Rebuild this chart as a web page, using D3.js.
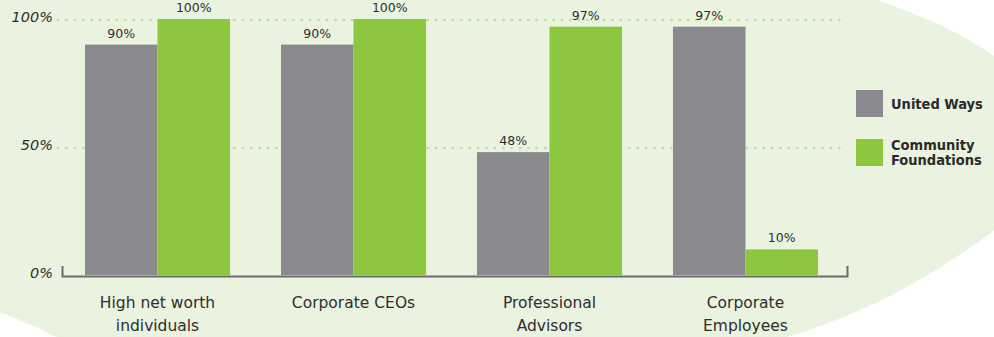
<!DOCTYPE html>
<html>
<head>
<meta charset="utf-8">
<script src="https://cdn.jsdelivr.net/npm/d3@7"></script>
<style>
  html, body { margin: 0; padding: 0; background: #ffffff; }
  svg { display: block; }
</style>
</head>
<body>
<svg id="chart" width="994" height="337"></svg>
<script>
  // ── Data ──────────────────────────────────────────────────────────────────
  var categories = [
    ["High net worth", "individuals"],
    ["Corporate CEOs"],
    ["Professional", "Advisors"],
    ["Corporate", "Employees"]
  ];
  var seriesNames = ["United Ways", ["Community", "Foundations"]];
  var unitedWays = [90, 90, 48, 97];
  var communityFoundations = [100, 100, 97, 10];
  var yTicks = [0, 50, 100];

  var C = {
    bg: "#eaf3df",
    gray: "#8a8a8e",
    green: "#8dc63f",
    grid: "#c2dc98",
    text: "#333333",
    axis: "#6b6b6b"
  };

  var svg = d3.select("#chart");

  // ── Background blob ───────────────────────────────────────────────────────
  svg.append("path")
    .attr("fill", C.bg)
    .attr("d", "M0,0 L877,0 C930,18 970,38 1000,60 L1000,226 C935,275 870,312 787,337 L57,337 C38,328 18,319 0,312 Z");

  // ── Scales ───────────────────────────────────────────────────────────────
  var x0 = d3.scaleBand().domain(d3.range(categories.length)).range([85, 818]).paddingInner(0.26).paddingOuter(0);
  var x1 = d3.scaleBand().domain([0, 1]).range([0, x0.bandwidth()]);
  var y = d3.scaleLinear().domain([0, 100]).range([275, 19]);

  // ── Gridlines ─────────────────────────────────────────────────────────────
  svg.append("g").selectAll("line")
    .data(yTicks.filter(function (d) { return d > 0; }))
    .join("line")
    .attr("x1", 58).attr("x2", 846)
    .attr("y1", function (d) { return y(d) + 1; })
    .attr("y2", function (d) { return y(d) + 1; })
    .attr("stroke", C.grid)
    .attr("stroke-width", 2.6)
    .attr("stroke-linecap", "round")
    .attr("stroke-dasharray", "0.1,8.3");

  // ── Y axis labels ─────────────────────────────────────────────────────────
  var yAxis = svg.append("g")
    .attr("transform", "translate(53,0)")
    .call(d3.axisLeft(y).tickValues(yTicks).tickSize(0).tickPadding(0)
      .tickFormat(function (d) { return d + "%"; }));
  yAxis.select(".domain").remove();
  yAxis.selectAll("text")
    .attr("font-family", "'DejaVu Sans', sans-serif")
    .attr("font-style", "italic")
    .attr("font-size", "14.5px")
    .attr("fill", "#2e2e2e")
    .attr("dy", "0.15em");

  // ── Bars ──────────────────────────────────────────────────────────────────
  var series = [unitedWays, communityFoundations];
  var colors = [C.gray, C.green];

  var groups = svg.append("g").selectAll("g")
    .data(categories)
    .join("g")
    .attr("transform", function (d, i) { return "translate(" + x0(i) + ",0)"; });

  groups.selectAll("rect")
    .data(function (d, i) { return series.map(function (s, k) { return { k: k, v: s[i] }; }); })
    .join("rect")
    .attr("x", function (d) { return x1(d.k); })
    .attr("width", x1.bandwidth())
    .attr("y", function (d) { return y(d.v); })
    .attr("height", function (d) { return y(0) - y(d.v); })
    .attr("fill", function (d) { return colors[d.k]; });

  groups.selectAll("text.val")
    .data(function (d, i) { return series.map(function (s, k) { return { k: k, v: s[i] }; }); })
    .join("text")
    .attr("class", "val")
    .attr("x", function (d) { return x1(d.k) + x1.bandwidth() / 2; })
    .attr("y", function (d) { return y(d.v) - 7; })
    .attr("text-anchor", "middle")
    .attr("font-family", "'DejaVu Sans', sans-serif")
    .attr("font-size", "12.5px")
    .attr("fill", "#2e2e2e")
    .text(function (d) { return d.v + "%"; });

  // ── X axis (baseline with end ticks) ──────────────────────────────────────
  var xAxisScale = d3.scaleLinear().range([62, 847]);
  var xAxis = svg.append("g")
    .attr("transform", "translate(0,276)")
    .call(d3.axisBottom(xAxisScale).ticks(0).tickSizeOuter(-10));
  xAxis.select(".domain").attr("stroke", C.axis).attr("stroke-width", 2).attr("fill", "none");

  // Category labels
  groups.append("text")
    .attr("x", x0.bandwidth() / 2)
    .attr("y", 308)
    .attr("text-anchor", "middle")
    .attr("font-family", "'DejaVu Sans', sans-serif")
    .attr("font-size", "15.5px")
    .attr("fill", "#2e2e2e")
    .selectAll("tspan")
    .data(function (d) { return d; })
    .join("tspan")
    .attr("x", x0.bandwidth() / 2)
    .attr("dy", function (d, i) { return i === 0 ? 0 : 23; })
    .text(function (d) { return d; });

  // ── Legend ────────────────────────────────────────────────────────────────
  var legend = svg.append("g").attr("transform", "translate(856,90)");
  var items = legend.selectAll("g")
    .data(seriesNames)
    .join("g")
    .attr("transform", function (d, i) { return "translate(0," + (i * 49) + ")"; });
  items.append("rect")
    .attr("width", 27).attr("height", 27)
    .attr("fill", function (d, i) { return colors[i]; });
  items.append("text")
    .attr("font-family", "'DejaVu Sans Condensed', 'DejaVu Sans', sans-serif")
    .attr("font-weight", "bold")
    .attr("font-size", "14.5px")
    .attr("fill", "#2a2a2a")
    .attr("y", function (d) { return Array.isArray(d) ? 11 : 19; })
    .selectAll("tspan")
    .data(function (d) { return Array.isArray(d) ? d : [d]; })
    .join("tspan")
    .attr("x", 35)
    .attr("dy", function (d, i) { return i === 0 ? 0 : 15; })
    .text(function (d) { return d; });
</script>
</body>
</html>
